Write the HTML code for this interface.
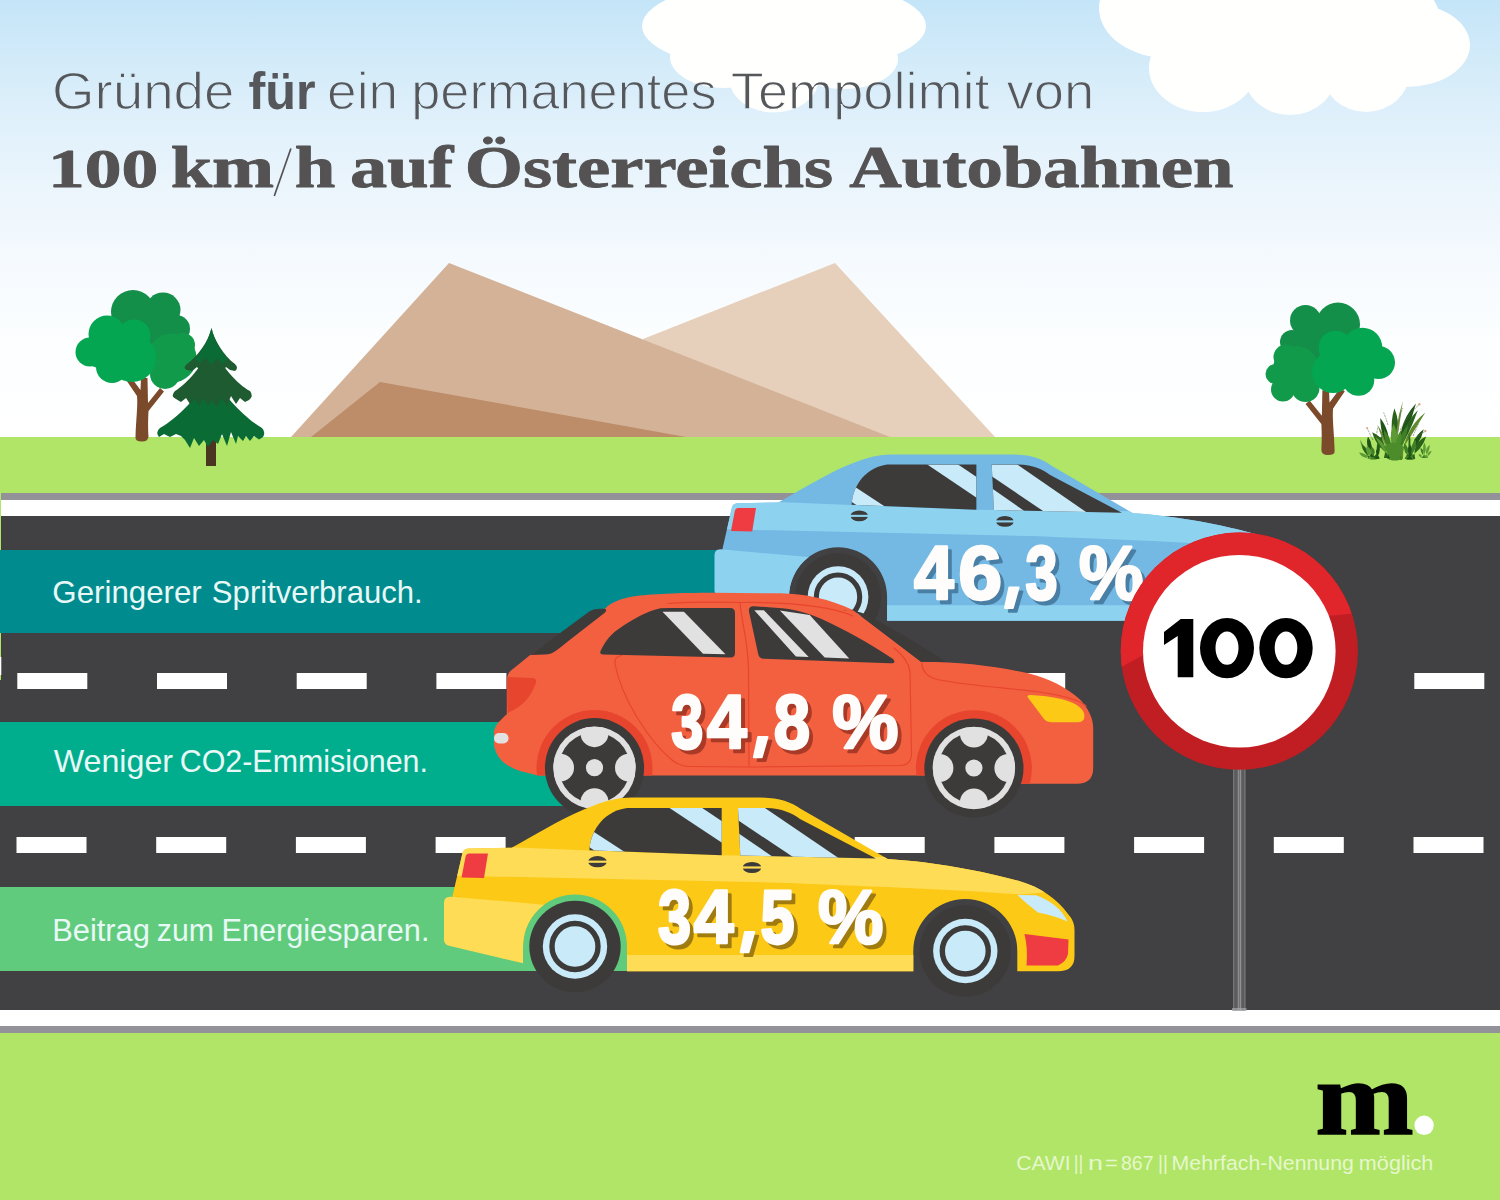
<!DOCTYPE html>
<html lang="de"><head><meta charset="utf-8"><title>Tempolimit 100</title>
<style>
html,body{margin:0;padding:0;background:#b0e567;}
body{width:1500px;height:1200px;overflow:hidden;font-family:"Liberation Sans",sans-serif;}
svg{display:block;position:absolute;left:0;top:0;}
.sans{font-family:"Liberation Sans",sans-serif;}
.serif{font-family:"Liberation Serif",serif;}
</style></head><body>
<svg width="1500" height="1200" viewBox="0 0 1500 1200">
<defs>
<linearGradient id="sky" x1="0" y1="0" x2="0" y2="1">
<stop offset="0" stop-color="#c4e5f8"/><stop offset="0.14" stop-color="#d3ebf9"/><stop offset="0.27" stop-color="#dff0fb"/><stop offset="0.43" stop-color="#ebf5fc"/><stop offset="0.6" stop-color="#f5fafe"/><stop offset="0.78" stop-color="#fcfeff"/><stop offset="1" stop-color="#ffffff"/>
</linearGradient>
</defs>

<rect x="0" y="0" width="1500" height="437" fill="url(#sky)"/>
<rect x="0" y="437" width="1500" height="763" fill="#b0e567"/>
<g fill="#fffffe">
<ellipse cx="784" cy="26" rx="142" ry="47"/>
<ellipse cx="724" cy="57" rx="54" ry="31"/>
<ellipse cx="774" cy="78" rx="45" ry="34.5"/>
<ellipse cx="844" cy="59" rx="54" ry="30"/>
<ellipse cx="1168" cy="8" rx="69" ry="50"/>
<ellipse cx="1203" cy="68" rx="54" ry="44"/>
<ellipse cx="1290" cy="74" rx="46" ry="41"/>
<ellipse cx="1366" cy="74" rx="43" ry="38"/>
<ellipse cx="1406" cy="45" rx="64" ry="42"/>
<ellipse cx="1290" cy="20" rx="150" ry="70"/>
</g>
<polygon points="643,339 835,263 995,437 700,437" fill="#e6d0bb"/>
<polygon points="291,437 449,263 890,437" fill="#d4b298"/>
<polygon points="311,437 380,382 686,437" fill="#bd8c69"/>
<rect x="1" y="493" width="1499" height="8" fill="#939298"/>
<rect x="1" y="500" width="1499" height="17" fill="#ffffff"/>
<rect x="1" y="516" width="1499" height="494" fill="#414042"/>
<rect x="0" y="680" width="2" height="330" fill="#414042"/>
<rect x="0" y="1010" width="1500" height="16" fill="#ffffff"/>
<rect x="0" y="1026" width="1500" height="7" fill="#939298"/>
<rect x="17.3" y="673" width="70" height="16" fill="#fff"/>
<rect x="16.5" y="837" width="70" height="16" fill="#fff"/>
<rect x="157.0" y="673" width="70" height="16" fill="#fff"/>
<rect x="156.2" y="837" width="70" height="16" fill="#fff"/>
<rect x="296.7" y="673" width="70" height="16" fill="#fff"/>
<rect x="295.9" y="837" width="70" height="16" fill="#fff"/>
<rect x="436.4" y="673" width="70" height="16" fill="#fff"/>
<rect x="435.6" y="837" width="70" height="16" fill="#fff"/>
<rect x="576.1" y="673" width="70" height="16" fill="#fff"/>
<rect x="575.3" y="837" width="70" height="16" fill="#fff"/>
<rect x="715.8" y="673" width="70" height="16" fill="#fff"/>
<rect x="715.0" y="837" width="70" height="16" fill="#fff"/>
<rect x="855.5" y="673" width="70" height="16" fill="#fff"/>
<rect x="854.7" y="837" width="70" height="16" fill="#fff"/>
<rect x="995.2" y="673" width="70" height="16" fill="#fff"/>
<rect x="994.4" y="837" width="70" height="16" fill="#fff"/>
<rect x="1134.9" y="673" width="70" height="16" fill="#fff"/>
<rect x="1134.1" y="837" width="70" height="16" fill="#fff"/>
<rect x="1274.6" y="673" width="70" height="16" fill="#fff"/>
<rect x="1273.8" y="837" width="70" height="16" fill="#fff"/>
<rect x="1414.3" y="673" width="70" height="16" fill="#fff"/>
<rect x="1413.5" y="837" width="70" height="16" fill="#fff"/>
<rect x="0" y="657" width="1.3" height="18" fill="#fff"/>
<rect x="0" y="550" width="745" height="83" fill="#008b8f"/>
<rect x="0" y="722" width="600" height="84" fill="#00ae8e"/>
<rect x="0" y="887" width="650" height="84" fill="#60cb7c"/>
<g id="t1" transform="translate(141.5,440) scale(1.0) translate(-141.5,-440)">
<path d="M135.5,437 C136,420 138,405 137,396 L125.5,379 L130,376 L140.5,390 L141,378 L147.5,378 L148,403 L160,388 L164,391.5 L148.5,411 C148,420 148,430 148.5,436 Q148.5,441.5 142,441.5 Q135,441.5 135.5,437 Z" fill="#7a4a2b"/>
<g fill="#138f49"><circle cx="133" cy="312" r="22"/><circle cx="163" cy="310" r="17.5"/><circle cx="176" cy="329" r="14"/><circle cx="150" cy="330" r="24"/></g>
<g fill="#129a4b"><circle cx="172" cy="358" r="24.5"/><circle cx="165" cy="374" r="15"/><circle cx="183" cy="345" r="12"/></g>
<g fill="#05a651"><circle cx="107" cy="334" r="18.5"/><circle cx="134" cy="336" r="16.5"/><circle cx="90" cy="352" r="14.5"/><circle cx="112" cy="367" r="16"/><circle cx="132" cy="358" r="24"/><circle cx="100" cy="352" r="16"/></g>
</g>
<g id="pine">
<rect x="206" y="440" width="10" height="26" fill="#4a3520"/>
<path d="M211.5,372 C222,395 245,418 262,428 Q266,432 263,437 L259,439.5 L254,436 L250,441 L246,436 L243,441 L238,436 L236,444 L231,432 L227,446 L222,434 L218,444 L213,440 L208,447 L204,440 L199,446 L194,438 L190,448 L185,440 L181,436 L176,434 L170,437 L164,434 L159,437 Q155,432 160,428 C178,418 200,395 211.5,372 Z" fill="#0a6b35"/>
<path d="M211.5,345 C220,365 238,385 250,391 Q254,396 249,400 L245,402 L240,398 L236,404 L231,396 L227,406 L222,398 L217,407 L212,400 L208,406 L203,398 L199,406 L195,399 L190,404 L186,398 L181,402 L176,399 Q170,396 175,391 C188,383 203,365 211.5,345 Z" fill="#1e5b30"/>
<path d="M211.5,328 C214,340 224,356 235,364 Q239,368 235,371 L230,370 L226,367 L222,372 L217,366 L212,372 L206,366 L201,372 L197,367 L192,371 L187,370 Q182,368 187,364 C198,356 208,342 211.5,328 Z" fill="#1e5b30"/>
<path d="M211.5,328 C214,340 221,352 228,359 L222,364 L217,358 L211,365 L206,358 L200,363 L195,359 C202,352 208,342 211.5,328 Z" fill="#0a6b35"/>
</g>
<g id="t2">
<g transform="translate(1328.5,453.5) scale(-1.02,1.02) translate(-141.5,-440)"><path d="M135.5,437 C136,420 138,405 137,396 L125.5,379 L130,376 L140.5,390 L141,378 L147.5,378 L148,403 L160,388 L164,391.5 L148.5,411 C148,420 148,430 148.5,436 Q148.5,441.5 142,441.5 Q135,441.5 135.5,437 Z" fill="#7a4a2b"/></g>
<g fill="#138f49"><circle cx="1305.5" cy="320.5" r="15.5"/><circle cx="1338" cy="324.5" r="22"/><circle cx="1292" cy="342" r="12"/><circle cx="1315" cy="342" r="20"/></g>
<g fill="#129a4b"><circle cx="1296" cy="369" r="23"/><circle cx="1275.5" cy="374" r="10"/><circle cx="1283" cy="389.5" r="12"/><circle cx="1305.5" cy="388" r="14"/><circle cx="1286" cy="357" r="12.5"/></g>
<g fill="#05a651"><circle cx="1335.5" cy="347.5" r="16.8"/><circle cx="1362.5" cy="347.5" r="19.8"/><circle cx="1378.5" cy="362.5" r="16.5"/><circle cx="1333" cy="372" r="21"/><circle cx="1358.5" cy="380" r="15.8"/><circle cx="1355" cy="365" r="20"/></g>
</g>
<g id="grass">
<path d="M1366.3,457.0 Q1365.1,447.8 1360.2,439.4 Q1360.4,449.8 1369.7,457.0 Z" fill="#5c9a35"/>
<path d="M1367.5,458.0 Q1365.7,452.8 1359.0,452.6 Q1362.4,459.6 1372.5,458.0 Z" fill="#5c9a35"/>
<path d="M1368.0,458.0 Q1369.4,449.2 1362.0,444.2 Q1361.9,454.1 1374.0,458.0 Z" fill="#2a621b"/>
<path d="M1369.2,458.0 Q1375.1,446.1 1368.0,436.4 Q1363.9,448.7 1376.8,458.0 Z" fill="#1f5417"/>
<path d="M1372.2,458.5 Q1383.4,448.0 1382.7,435.2 Q1372.4,444.8 1379.8,458.5 Z" fill="#2a621b"/>
<path d="M1367.2,459.0 Q1375.3,450.4 1367.0,446.0 Q1363.2,454.6 1375.8,459.0 Z" fill="#5c9a35"/>
<path d="M1372.6,459.0 Q1382.4,454.2 1379.0,447.0 Q1372.6,451.8 1379.4,459.0 Z" fill="#1f5417"/>
<path d="M1370.1,459.5 Q1378.1,452.8 1372.5,447.0 Q1367.9,453.7 1376.9,459.5 Z" fill="#3f7f25"/>
<path d="M1383.9,458.0 Q1389.1,439.6 1372.2,432.2 Q1376.3,447.9 1394.1,458.0 Z" fill="#2a621b"/>
<path d="M1387.0,459.0 Q1388.1,444.4 1375.5,437.0 Q1380.7,449.4 1393.0,459.0 Z" fill="#5c9a35"/>
<path d="M1388.4,458.0 Q1388.3,439.5 1377.3,424.4 Q1382.3,441.8 1392.6,458.0 Z" fill="#6f8f3a"/>
<path d="M1386.8,458.0 Q1393.6,435.9 1380.3,418.1 Q1380.1,439.7 1396.2,458.0 Z" fill="#1f5417"/>
<path d="M1388.8,459.0 Q1395.5,442.3 1384.0,430.0 Q1383.4,446.1 1397.2,459.0 Z" fill="#3f7f25"/>
<path d="M1388.0,459.0 Q1404.6,433.7 1394.4,408.2 Q1386.8,433.5 1400.0,459.0 Z" fill="#2a621b"/>
<path d="M1393.4,459.0 Q1399.3,430.2 1402.8,401.3 Q1393.0,429.4 1397.6,459.0 Z" fill="#6f8f3a"/>
<path d="M1391.9,459.0 Q1408.5,431.9 1416.0,403.4 Q1394.1,426.9 1402.1,459.0 Z" fill="#1f5417"/>
<path d="M1393.8,459.0 Q1409.2,435.2 1417.8,410.3 Q1397.4,430.4 1402.2,459.0 Z" fill="#2a621b"/>
<path d="M1396.1,459.0 Q1411.6,435.3 1425.3,412.4 Q1402.7,430.3 1402.9,459.0 Z" fill="#5f8a2c"/>
<path d="M1393.8,460.0 Q1406.2,443.4 1408.0,425.0 Q1394.0,439.9 1402.2,460.0 Z" fill="#3f7f25"/>
<path d="M1388.5,460.0 Q1403.4,441.7 1393.5,424.0 Q1385.6,442.2 1400.5,460.0 Z" fill="#5c9a35"/>
<path d="M1392.8,460.0 Q1403.8,445.6 1401.0,430.0 Q1391.2,444.0 1401.2,460.0 Z" fill="#4c8c2b"/>
<path d="M1384,447 Q1394,438 1404,447 L1398,460.5 L1391.5,460.5 Z" fill="#4c8c2b"/>
<path d="M1405.1,458.0 Q1413.7,445.5 1408.8,432.2 Q1408.1,445.1 1408.9,458.0 Z" fill="#2a621b"/>
<path d="M1404.8,459.0 Q1419.9,445.8 1423.8,429.2 Q1408.5,440.2 1413.2,459.0 Z" fill="#1f5417"/>
<path d="M1406.8,459.0 Q1422.2,450.1 1426.2,436.4 Q1411.7,443.0 1415.2,459.0 Z" fill="#2a621b"/>
<path d="M1404.6,459.0 Q1411.9,449.5 1404.0,443.0 Q1402.0,452.0 1411.4,459.0 Z" fill="#3f7f25"/>
<path d="M1406.7,459.5 Q1417.8,451.0 1416.0,440.0 Q1406.8,447.9 1414.3,459.5 Z" fill="#3f7f25"/>
<path d="M1406.1,459.5 Q1414.8,451.9 1410.0,444.0 Q1404.7,451.6 1412.9,459.5 Z" fill="#1f5417"/>
<path d="M1421.8,458.0 Q1428.5,450.2 1424.4,442.4 Q1420.4,450.2 1427.2,458.0 Z" fill="#5c9a35"/>
<path d="M1423.1,458.0 Q1430.1,452.2 1429.8,444.8 Q1423.3,450.0 1427.9,458.0 Z" fill="#5c9a35"/>
<path d="M1424.0,458.0 Q1430.5,455.7 1431.6,450.8 Q1425.9,452.1 1428.0,458.0 Z" fill="#5c9a35"/>
<path d="M1421.0,458.0 Q1423.0,453.3 1418.4,454.4 Q1419.4,457.9 1425.0,458.0 Z" fill="#5c9a35"/>
<path d="M1421.9,458.0 Q1426.0,451.5 1420.5,447.5 Q1420.0,453.5 1426.1,458.0 Z" fill="#3f7f25"/>
<g fill="none" stroke="#5b6f4a" stroke-width="0.6" stroke-dasharray="2 0.8"><path d="M1372.8,440 Q1369.5,433 1367.3,428.5"/><path d="M1400,430 Q1410,412 1419,405"/><path d="M1414,440 Q1420,434 1425,431.5"/><path d="M1388,425 Q1385.5,417 1383.6,412.4"/><path d="M1399,420 Q1401,412 1402.8,408"/><path d="M1413,436 Q1416.5,428 1418.8,423.2"/><path d="M1376.5,436 Q1377,431 1377.8,427"/></g>
<g fill="#d9ab86"><circle cx="1367.1" cy="428" r="1.1"/><circle cx="1419.3" cy="404.3" r="1.2"/><circle cx="1425.3" cy="431" r="1.2"/></g>
</g>
<g id="bl" transform="translate(295.80,-309.31) scale(0.943,0.9576)">
<clipPath id="blc"><path d="M452.5,896 L462.5,853 Q463.5,849 468,848.6 L511.7,847.7 C545,829 570,814 593.3,805.7 C607,800.5 618,797.5 632,797.5 L757,797.5 C778,797.5 790,801.5 801,809 L887.7,858.9 C936,862 983,871 1018.3,880.8 C1041,887 1058,900 1068,914 Q1074.5,921 1074.5,930 L1074.5,956 Q1074.5,971.3 1058,971.3 L1017.3,971.3 L1017.3,951 A52,52 0 0 0 913.3,951 L913.3,971.3 L627,971.3 L627,946.5 A52,52 0 0 0 523,946.5 L523,920 L452,905 Z"/></clipPath>
<path d="M452.5,896 L462.5,853 Q463.5,849 468,848.6 L511.7,847.7 C545,829 570,814 593.3,805.7 C607,800.5 618,797.5 632,797.5 L757,797.5 C778,797.5 790,801.5 801,809 L887.7,858.9 C936,862 983,871 1018.3,880.8 C1041,887 1058,900 1068,914 Q1074.5,921 1074.5,930 L1074.5,956 Q1074.5,971.3 1058,971.3 L1017.3,971.3 L1017.3,951 A52,52 0 0 0 913.3,951 L913.3,971.3 L627,971.3 L627,946.5 A52,52 0 0 0 523,946.5 L523,920 L452,905 Z" fill="#74b9e3"/>
<g clip-path="url(#blc)" fill="#8dd3f0">
<path d="M440,846 L511,847.3 L589,850.4 L722,855.3 L740,855.5 L887,857 C940,862 990,872 1020,880 L1050,892 L1020,894.5 C950,889 860,886 780,882.7 L454,875.7 Z"/>
<rect x="600" y="955" width="330" height="20"/>
</g>
<path d="M444,903 Q444,896.5 450.5,896.7 L544,904.7 A52,52 0 0 0 523,946.5 L523,963.3 L449,945.8 Q444,944.5 444,939.5 Z" fill="#8dd3f0"/>
<path d="M469,853.5 L488,853.5 L484,878 L461.5,877.5 L465.5,857 Q466.3,853.5 469,853.5 Z" fill="#ef3b42"/>
<path d="M1024.5,934 L1068.5,939.5 L1068,954 Q1066,962 1058,965.5 L1026.5,965.5 C1027.5,955 1027,944 1024.5,934 Z" fill="#ef3b42"/>
<path d="M1017.5,895 L1036,895.3 C1052,901 1062,910 1067.5,921.5 C1058,917 1047,914 1038,912.5 C1031,907 1023.5,901 1017.5,895 Z" fill="#c9eaf8"/>
<clipPath id="blwr"><path d="M589.4,850.2 C590,835 600,812 627,808 L721.7,808 L721.7,855.3 Z"/></clipPath><clipPath id="blwf"><path d="M738,808 L766,808 C782,808.5 792,813 800,819 L876,858.5 L740.3,855.5 Z"/></clipPath>
<path d="M589.4,850.2 C590,835 600,812 627,808 L721.7,808 L721.7,855.3 Z" fill="#3d3a3a"/><path d="M738,808 L766,808 C782,808.5 792,813 800,819 L876,858.5 L740.3,855.5 Z" fill="#3d3a3a"/>
<g clip-path="url(#blwr)" fill="#c9eaf8"><polygon points="668,807 700.7,807 730,826.5 730,848"/><polygon points="580,823 634,858 606,858 580,841"/></g>
<g clip-path="url(#blwf)" fill="#c9eaf8"><polygon points="730,806 762,806 840,859 796,859 730,815"/><polygon points="730,827.5 776,859 730,859"/></g>
<ellipse cx="597.5" cy="861.7" rx="9.3" ry="5.6" fill="#3d3a3a"/><rect x="587.5" y="860.6" width="20" height="2.2" fill="#8dd3f0"/>
<ellipse cx="752" cy="867.5" rx="9.3" ry="5.6" fill="#3d3a3a"/><rect x="742" y="866.4" width="20" height="2.2" fill="#8dd3f0"/>
<circle cx="575" cy="946.5" r="45.7" fill="#3d3a3a"/><circle cx="575" cy="946.5" r="32.2" fill="#c9eaf8"/><circle cx="575" cy="946.5" r="23" fill="none" stroke="#3d3a3a" stroke-width="5.4"/>
<circle cx="965.3" cy="951" r="45.7" fill="#3d3a3a"/><circle cx="965.3" cy="951" r="32.2" fill="#c9eaf8"/><circle cx="965.3" cy="951" r="23" fill="none" stroke="#3d3a3a" stroke-width="5.4"/>
</g>
<g id="rd">
<clipPath id="rdc"><path d="M538,775.5 L520,771 C505,766 496,758 494,745 L494,733 C494,727 498,722 506.8,714.2 L506.8,680 Q507,674 511,670.5 L530.2,655.1 L594,610 L604.8,608.7 C612,601.5 622,598.5 633,596.5 C650,594 680,592.8 713,592.8 L780,593.3 C805,593.8 830,599 853.3,610.3 L921,661.7 C960,661.5 995,666 1028.3,673.3 C1050,679 1066,687 1080,699.5 C1088,708 1093.2,718 1093.2,728 L1093.2,768 Q1093.2,783.7 1077,783.7 L985,783.7 L985,775.5 Z"/></clipPath>
<path d="M538,775.5 L520,771 C505,766 496,758 494,745 L494,733 C494,727 498,722 506.8,714.2 L506.8,680 Q507,674 511,670.5 L530.2,655.1 L594,610 L604.8,608.7 C612,601.5 622,598.5 633,596.5 C650,594 680,592.8 713,592.8 L780,593.3 C805,593.8 830,599 853.3,610.3 L921,661.7 C960,661.5 995,666 1028.3,673.3 C1050,679 1066,687 1080,699.5 C1088,708 1093.2,718 1093.2,728 L1093.2,768 Q1093.2,783.7 1077,783.7 L985,783.7 L985,775.5 Z" fill="#f26040"/>
<path d="M530.2,655.1 L590,611 Q594,608.8 600,608.7 L604.8,608.7 Q607.5,609.5 605,612.5 C585,628 570,640 557,650 Q551,654.5 545,654.5 Z" fill="#3d3a3a"/>
<path d="M842.8,609.9 C852,610 858,611 865,614 C890,627 920,645 946,662 L921,661.7 L853.3,610.3 Z" fill="#3d3a3a"/>
<g clip-path="url(#rdc)" fill="#e8452e"><circle cx="594.5" cy="768" r="58"/><circle cx="973.9" cy="768.2" r="58"/></g>
<path d="M507,677 L532,678 Q538,678.5 535.5,684 C531,696 524,706 507.5,713 Z" fill="#e8452e"/>
<rect x="494" y="733" width="14.5" height="10.4" rx="5" fill="#e1e1e1"/>
<path d="M1027.5,697 Q1027,694.5 1031,695 C1048,696 1064,698.5 1073,703 C1080,706.5 1084.5,711 1084.5,716 Q1084.5,722.3 1077,722.3 L1052,722.3 Q1047,722.3 1044,719 Z" fill="#fcc917"/>
<g fill="none" stroke="#e8452e" stroke-width="1.2" stroke-linecap="round">
<path d="M622,655.5 Q614,656 615,664 C622,700 650,742 672,760 Q680,766.5 690,766.5 L748,767"/>
<path d="M668,603.5 C690,602 720,602 740,602.5 C790,602 830,606 853,616"/>
<path d="M740,602.5 C742,625 748,640 748.5,670 L749,767 L900,765.5 Q911.5,765 911.5,754 L910,672 C909,663 903,655 894,648"/>
<path d="M922,663 Q922,675 937,679.5 C970,686 1010,688 1040,692 C1060,695 1078,699 1086,706"/>
</g>
<clipPath id="rdwr"><path d="M603.5,654.5 Q598.5,654.3 601,650 C606,640 611,634 620,628 C635,618 648,611 660.4,608.3 Q663,608 668,608 L730,608 Q735,608 735,613 L735,653 Q735,657.7 730,657.5 Z"/></clipPath><clipPath id="rdwf"><path d="M749,611.5 Q748.3,606 754,606.2 L782,608.3 C800,610 815,615.5 830,623 C855,635 875,647 893,659 Q897,663.5 890,663.3 L764,658.8 Q759,658.6 758.2,654 Z"/></clipPath>
<path d="M603.5,654.5 Q598.5,654.3 601,650 C606,640 611,634 620,628 C635,618 648,611 660.4,608.3 Q663,608 668,608 L730,608 Q735,608 735,613 L735,653 Q735,657.7 730,657.5 Z" fill="#3d3a3a"/><path d="M749,611.5 Q748.3,606 754,606.2 L782,608.3 C800,610 815,615.5 830,623 C855,635 875,647 893,659 Q897,663.5 890,663.3 L764,658.8 Q759,658.6 758.2,654 Z" fill="#3d3a3a"/>
<g clip-path="url(#rdwr)" fill="#e1e1e1"><polygon points="662.5,611.7 683.9,611.7 725.5,654.3 703,653.7"/></g>
<g clip-path="url(#rdwf)" fill="#e1e1e1"><polygon points="754.3,610.2 763.9,610.2 808.7,657 795.9,656.5"/><polygon points="779.9,610.6 809.7,614.9 849.2,658.6 824.7,657.5"/></g>
<circle cx="594.5" cy="767.7" r="49.6" fill="#3d3a3a"/><circle cx="594.5" cy="767.7" r="41.2" fill="#e1e1e1"/><circle cx="594.5" cy="767.7" r="35.5" fill="#3d3a3a"/>
<g clip-path="url(#rdw594)" fill="#e1e1e1">
<circle cx="594.5" cy="733.2" r="14"/>
<circle cx="594.5" cy="802.2" r="14"/>
<circle cx="560.0" cy="767.7" r="14"/>
<circle cx="629.0" cy="767.7" r="14"/>
</g>
<clipPath id="rdw594"><circle cx="594.5" cy="767.7" r="41"/></clipPath>
<circle cx="594.5" cy="767.7" r="8.6" fill="#e1e1e1"/>
<circle cx="973.9" cy="768" r="49.6" fill="#3d3a3a"/><circle cx="973.9" cy="768" r="41.2" fill="#e1e1e1"/><circle cx="973.9" cy="768" r="35.5" fill="#3d3a3a"/>
<g clip-path="url(#rdw973)" fill="#e1e1e1">
<circle cx="973.9" cy="733.5" r="14"/>
<circle cx="973.9" cy="802.5" r="14"/>
<circle cx="939.4" cy="768" r="14"/>
<circle cx="1008.4" cy="768" r="14"/>
</g>
<clipPath id="rdw973"><circle cx="973.9" cy="768" r="41"/></clipPath>
<circle cx="973.9" cy="768" r="8.6" fill="#e1e1e1"/>
</g>
<g id="ye">
<clipPath id="yec"><path d="M452.5,896 L462.5,853 Q463.5,849 468,848.6 L511.7,847.7 C545,829 570,814 593.3,805.7 C607,800.5 618,797.5 632,797.5 L757,797.5 C778,797.5 790,801.5 801,809 L887.7,858.9 C936,862 983,871 1018.3,880.8 C1041,887 1058,900 1068,914 Q1074.5,921 1074.5,930 L1074.5,956 Q1074.5,971.3 1058,971.3 L1017.3,971.3 L1017.3,951 A52,52 0 0 0 913.3,951 L913.3,971.3 L627,971.3 L627,946.5 A52,52 0 0 0 523,946.5 L523,920 L452,905 Z"/></clipPath>
<path d="M452.5,896 L462.5,853 Q463.5,849 468,848.6 L511.7,847.7 C545,829 570,814 593.3,805.7 C607,800.5 618,797.5 632,797.5 L757,797.5 C778,797.5 790,801.5 801,809 L887.7,858.9 C936,862 983,871 1018.3,880.8 C1041,887 1058,900 1068,914 Q1074.5,921 1074.5,930 L1074.5,956 Q1074.5,971.3 1058,971.3 L1017.3,971.3 L1017.3,951 A52,52 0 0 0 913.3,951 L913.3,971.3 L627,971.3 L627,946.5 A52,52 0 0 0 523,946.5 L523,920 L452,905 Z" fill="#fcc917"/>
<g clip-path="url(#yec)" fill="#ffdc55">
<path d="M440,846 L511,847.3 L589,850.4 L722,855.3 L740,855.5 L887,857 C940,862 990,872 1020,880 L1050,892 L1020,894.5 C950,889 860,886 780,882.7 L454,875.7 Z"/>
<rect x="600" y="955" width="330" height="20"/>
</g>
<path d="M444,903 Q444,896.5 450.5,896.7 L544,904.7 A52,52 0 0 0 523,946.5 L523,963.3 L449,945.8 Q444,944.5 444,939.5 Z" fill="#ffdc55"/>
<path d="M469,853.5 L488,853.5 L484,878 L461.5,877.5 L465.5,857 Q466.3,853.5 469,853.5 Z" fill="#ef3b42"/>
<path d="M1024.5,934 L1068.5,939.5 L1068,954 Q1066,962 1058,965.5 L1026.5,965.5 C1027.5,955 1027,944 1024.5,934 Z" fill="#ef3b42"/>
<path d="M1017.5,895 L1036,895.3 C1052,901 1062,910 1067.5,921.5 C1058,917 1047,914 1038,912.5 C1031,907 1023.5,901 1017.5,895 Z" fill="#c9eaf8"/>
<clipPath id="yewr"><path d="M589.4,850.2 C590,835 600,812 627,808 L721.7,808 L721.7,855.3 Z"/></clipPath><clipPath id="yewf"><path d="M738,808 L766,808 C782,808.5 792,813 800,819 L876,858.5 L740.3,855.5 Z"/></clipPath>
<path d="M589.4,850.2 C590,835 600,812 627,808 L721.7,808 L721.7,855.3 Z" fill="#3d3a3a"/><path d="M738,808 L766,808 C782,808.5 792,813 800,819 L876,858.5 L740.3,855.5 Z" fill="#3d3a3a"/>
<g clip-path="url(#yewr)" fill="#c9eaf8"><polygon points="668,807 700.7,807 730,826.5 730,848"/><polygon points="580,823 634,858 606,858 580,841"/></g>
<g clip-path="url(#yewf)" fill="#c9eaf8"><polygon points="730,806 762,806 840,859 796,859 730,815"/><polygon points="730,827.5 776,859 730,859"/></g>
<ellipse cx="597.5" cy="861.7" rx="9.3" ry="5.6" fill="#3d3a3a"/><rect x="587.5" y="860.6" width="20" height="2.2" fill="#ffdc55"/>
<ellipse cx="752" cy="867.5" rx="9.3" ry="5.6" fill="#3d3a3a"/><rect x="742" y="866.4" width="20" height="2.2" fill="#ffdc55"/>
<circle cx="575" cy="946.5" r="45.7" fill="#3d3a3a"/><circle cx="575" cy="946.5" r="32.2" fill="#c9eaf8"/><circle cx="575" cy="946.5" r="23" fill="none" stroke="#3d3a3a" stroke-width="5.4"/>
<circle cx="965.3" cy="951" r="45.7" fill="#3d3a3a"/><circle cx="965.3" cy="951" r="32.2" fill="#c9eaf8"/><circle cx="965.3" cy="951" r="23" fill="none" stroke="#3d3a3a" stroke-width="5.4"/>
</g>
<text transform="translate(917.81,602.70) scale(0.9400,0.9876)" class="sans" font-size="76" font-weight="bold" fill="#4a7fa5" stroke="#4a7fa5" stroke-width="2.6" stroke-linejoin="round" vector-effect="non-scaling-stroke" >4</text>
<text transform="translate(961.94,602.70) scale(1.0372,0.9876)" class="sans" font-size="76" font-weight="bold" fill="#4a7fa5" stroke="#4a7fa5" stroke-width="2.6" stroke-linejoin="round" vector-effect="non-scaling-stroke" >6</text>
<text transform="translate(1029.36,602.70) scale(0.7590,0.9876)" class="sans" font-size="76" font-weight="bold" fill="#4a7fa5" stroke="#4a7fa5" stroke-width="2.6" stroke-linejoin="round" vector-effect="non-scaling-stroke" >3</text>
<text transform="translate(1082.69,602.70) scale(0.9537,0.9876)" class="sans" font-size="76" font-weight="bold" fill="#4a7fa5" stroke="#4a7fa5" stroke-width="2.6" stroke-linejoin="round" vector-effect="non-scaling-stroke" >%</text>
<polygon points="1013.1,591.4 1022.4,591.4 1016.6,611.7 1008.8,611.7" fill="#4a7fa5" stroke="#4a7fa5" stroke-width="2" stroke-linejoin="round"/>
<text transform="translate(914.01,598.90) scale(0.9400,0.9876)" class="sans" font-size="76" font-weight="bold" fill="#fffdfb" stroke="#fffdfb" stroke-width="2.6" stroke-linejoin="round" vector-effect="non-scaling-stroke" >4</text>
<text transform="translate(958.14,598.90) scale(1.0372,0.9876)" class="sans" font-size="76" font-weight="bold" fill="#fffdfb" stroke="#fffdfb" stroke-width="2.6" stroke-linejoin="round" vector-effect="non-scaling-stroke" >6</text>
<text transform="translate(1025.56,598.90) scale(0.7590,0.9876)" class="sans" font-size="76" font-weight="bold" fill="#fffdfb" stroke="#fffdfb" stroke-width="2.6" stroke-linejoin="round" vector-effect="non-scaling-stroke" >3</text>
<text transform="translate(1078.89,598.90) scale(0.9537,0.9876)" class="sans" font-size="76" font-weight="bold" fill="#fffdfb" stroke="#fffdfb" stroke-width="2.6" stroke-linejoin="round" vector-effect="non-scaling-stroke" >%</text>
<polygon points="1009.3,587.6 1018.6,587.6 1012.8,607.9 1005.0,607.9" fill="#fffdfb" stroke="#fffdfb" stroke-width="2" stroke-linejoin="round"/>
<g id="sign">
<defs><linearGradient id="pole" x1="0" y1="0" x2="1" y2="0"><stop offset="0" stop-color="#8c8d8f"/><stop offset="0.12" stop-color="#5c5c5e"/><stop offset="0.33" stop-color="#5c5c5e"/><stop offset="0.42" stop-color="#929395"/><stop offset="0.5" stop-color="#6c6c6e"/><stop offset="0.6" stop-color="#929395"/><stop offset="0.7" stop-color="#5c5c5e"/><stop offset="0.88" stop-color="#5c5c5e"/><stop offset="1" stop-color="#8c8d8f"/></linearGradient><clipPath id="ringc"><path d="M1239.3,532.6 a118.6,118.6 0 1 0 0.01,0 Z M1239.3,555 a96.2,96.2 0 1 1 -0.01,0 Z" clip-rule="evenodd"/></clipPath></defs>
<rect x="1233.2" y="765" width="12.2" height="245.5" fill="url(#pole)"/>
<rect x="1232" y="1008" width="14.5" height="3" fill="#a8a9ab" opacity="0.7"/>
<circle cx="1239.3" cy="651.2" r="118.6" fill="#c11e24"/>
<g clip-path="url(#sgc)"><path d="M1110,676 C1150,640 1250,622 1370,612 L1370,500 L1110,500 Z" fill="#e0252b"/></g>
<clipPath id="sgc"><circle cx="1239.3" cy="651.2" r="118.6"/></clipPath>
<circle cx="1239.3" cy="651.2" r="96.3" fill="#ffffff"/>
</g>
<mask id="thin" maskUnits="userSpaceOnUse" x="40" y="55" width="1070" height="75">
<text transform="translate(51.97,108.7) scale(1.0518,1.0)" class="sans" font-size="52" fill="#fff" stroke="#000" stroke-width="1.3">Gründe</text>
<text transform="translate(248.46,108.7) scale(0.9675,1.0)" class="sans" font-size="52" font-weight="bold" fill="#fff">für</text>
<text transform="translate(327.08,108.7) scale(1.0232,1.0)" class="sans" font-size="52" fill="#fff" stroke="#000" stroke-width="1.3">ein</text>
<text transform="translate(411.21,108.7) scale(1.0063,1.0)" class="sans" font-size="52" fill="#fff" stroke="#000" stroke-width="1.3">permanentes</text>
<text transform="translate(730.87,108.7) scale(1.0417,1.0)" class="sans" font-size="52" fill="#fff" stroke="#000" stroke-width="1.3">Tempolimit</text>
<text transform="translate(1006.47,108.7) scale(1.0478,1.0)" class="sans" font-size="52" fill="#fff" stroke="#000" stroke-width="1.3">von</text>
</mask>
<rect x="40" y="55" width="1070" height="75" fill="#55575a" mask="url(#thin)"/>
<text transform="translate(47.98,186.80) scale(1.3367,1.0000)" class="serif" font-size="55" font-weight="bold" fill="#545252" stroke="#545252" stroke-width="1.0" stroke-linejoin="round" vector-effect="non-scaling-stroke" >100</text>
<text transform="translate(170.64,186.80) scale(1.2421,1.0000)" class="serif" font-size="60" font-weight="bold" fill="#545252" stroke="#545252" stroke-width="1.0" stroke-linejoin="round" vector-effect="non-scaling-stroke" >km</text>
<text transform="translate(294.68,186.80) scale(1.2161,1.0000)" class="serif" font-size="60" font-weight="bold" fill="#545252" stroke="#545252" stroke-width="1.0" stroke-linejoin="round" vector-effect="non-scaling-stroke" >h</text>
<text transform="translate(350.02,186.80) scale(1.2402,1.0000)" class="serif" font-size="60" font-weight="bold" fill="#545252" stroke="#545252" stroke-width="1.0" stroke-linejoin="round" vector-effect="non-scaling-stroke" >auf</text>
<text transform="translate(464.76,186.80) scale(1.2474,1.0000)" class="serif" font-size="60" font-weight="bold" fill="#545252" stroke="#545252" stroke-width="1.0" stroke-linejoin="round" vector-effect="non-scaling-stroke" >Österreichs</text>
<text transform="translate(849.19,186.80) scale(1.2130,1.0000)" class="serif" font-size="60" font-weight="bold" fill="#545252" stroke="#545252" stroke-width="1.0" stroke-linejoin="round" vector-effect="non-scaling-stroke" >Autobahnen</text>
<line x1="290.9" y1="148.5" x2="274.3" y2="196" stroke="#545252" stroke-width="1.7"/>
<text transform="translate(52.34,603.20) scale(1.0090,1.0000)" class="sans" font-size="31" fill="#e8f8f6" >Geringerer</text>
<text transform="translate(211.87,603.20) scale(1.0033,1.0000)" class="sans" font-size="31" fill="#e8f8f6" >Spritverbrauch.</text>
<text transform="translate(53.77,771.90) scale(1.0387,1.0000)" class="sans" font-size="31" fill="#e8f8f6" >Weniger</text>
<text transform="translate(179.78,771.90) scale(0.9803,1.0000)" class="sans" font-size="31" fill="#e8f8f6" >CO2-Emmisionen.</text>
<text transform="translate(52.13,940.80) scale(0.9963,1.0000)" class="sans" font-size="31" fill="#e8f8f6" >Beitrag</text>
<text transform="translate(156.84,940.80) scale(0.9750,1.0000)" class="sans" font-size="31" fill="#e8f8f6" >zum</text>
<text transform="translate(221.44,940.80) scale(0.9895,1.0000)" class="sans" font-size="31" fill="#e8f8f6" >Energiesparen.</text>
<text transform="translate(675.16,752.00) scale(0.7590,1.0048)" class="sans" font-size="76" font-weight="bold" fill="#a83a27" stroke="#a83a27" stroke-width="2.6" stroke-linejoin="round" vector-effect="non-scaling-stroke" >3</text>
<text transform="translate(710.91,752.00) scale(0.9400,1.0048)" class="sans" font-size="76" font-weight="bold" fill="#a83a27" stroke="#a83a27" stroke-width="2.6" stroke-linejoin="round" vector-effect="non-scaling-stroke" >4</text>
<text transform="translate(777.52,752.00) scale(0.8591,1.0048)" class="sans" font-size="76" font-weight="bold" fill="#a83a27" stroke="#a83a27" stroke-width="2.6" stroke-linejoin="round" vector-effect="non-scaling-stroke" >8</text>
<text transform="translate(835.94,752.00) scale(0.9804,1.0048)" class="sans" font-size="76" font-weight="bold" fill="#a83a27" stroke="#a83a27" stroke-width="2.6" stroke-linejoin="round" vector-effect="non-scaling-stroke" >%</text>
<polygon points="762.0,740.7 771.3,740.7 765.5,761.0 757.7,761.0" fill="#a83a27" stroke="#a83a27" stroke-width="2" stroke-linejoin="round"/>
<text transform="translate(671.36,748.20) scale(0.7590,1.0048)" class="sans" font-size="76" font-weight="bold" fill="#fffdfb" stroke="#fffdfb" stroke-width="2.6" stroke-linejoin="round" vector-effect="non-scaling-stroke" >3</text>
<text transform="translate(707.11,748.20) scale(0.9400,1.0048)" class="sans" font-size="76" font-weight="bold" fill="#fffdfb" stroke="#fffdfb" stroke-width="2.6" stroke-linejoin="round" vector-effect="non-scaling-stroke" >4</text>
<text transform="translate(773.72,748.20) scale(0.8591,1.0048)" class="sans" font-size="76" font-weight="bold" fill="#fffdfb" stroke="#fffdfb" stroke-width="2.6" stroke-linejoin="round" vector-effect="non-scaling-stroke" >8</text>
<text transform="translate(832.14,748.20) scale(0.9804,1.0048)" class="sans" font-size="76" font-weight="bold" fill="#fffdfb" stroke="#fffdfb" stroke-width="2.6" stroke-linejoin="round" vector-effect="non-scaling-stroke" >%</text>
<polygon points="758.2,736.9 767.5,736.9 761.7,757.2 753.9,757.2" fill="#fffdfb" stroke="#fffdfb" stroke-width="2" stroke-linejoin="round"/>
<text transform="translate(661.81,947.00) scale(0.7828,1.0048)" class="sans" font-size="76" font-weight="bold" fill="#a07c10" stroke="#a07c10" stroke-width="2.6" stroke-linejoin="round" vector-effect="non-scaling-stroke" >3</text>
<text transform="translate(697.61,947.00) scale(0.9424,1.0048)" class="sans" font-size="76" font-weight="bold" fill="#a07c10" stroke="#a07c10" stroke-width="2.6" stroke-linejoin="round" vector-effect="non-scaling-stroke" >4</text>
<text transform="translate(764.36,947.00) scale(0.8067,1.0048)" class="sans" font-size="76" font-weight="bold" fill="#a07c10" stroke="#a07c10" stroke-width="2.6" stroke-linejoin="round" vector-effect="non-scaling-stroke" >5</text>
<text transform="translate(821.76,947.00) scale(0.9678,1.0048)" class="sans" font-size="76" font-weight="bold" fill="#a07c10" stroke="#a07c10" stroke-width="2.6" stroke-linejoin="round" vector-effect="non-scaling-stroke" >%</text>
<polygon points="748.8,935.7 758.1,935.7 752.3,956.0 744.5,956.0" fill="#a07c10" stroke="#a07c10" stroke-width="2" stroke-linejoin="round"/>
<text transform="translate(658.01,943.20) scale(0.7828,1.0048)" class="sans" font-size="76" font-weight="bold" fill="#fffdfb" stroke="#fffdfb" stroke-width="2.6" stroke-linejoin="round" vector-effect="non-scaling-stroke" >3</text>
<text transform="translate(693.81,943.20) scale(0.9424,1.0048)" class="sans" font-size="76" font-weight="bold" fill="#fffdfb" stroke="#fffdfb" stroke-width="2.6" stroke-linejoin="round" vector-effect="non-scaling-stroke" >4</text>
<text transform="translate(760.56,943.20) scale(0.8067,1.0048)" class="sans" font-size="76" font-weight="bold" fill="#fffdfb" stroke="#fffdfb" stroke-width="2.6" stroke-linejoin="round" vector-effect="non-scaling-stroke" >5</text>
<text transform="translate(817.96,943.20) scale(0.9678,1.0048)" class="sans" font-size="76" font-weight="bold" fill="#fffdfb" stroke="#fffdfb" stroke-width="2.6" stroke-linejoin="round" vector-effect="non-scaling-stroke" >%</text>
<polygon points="745.0,931.9 754.3,931.9 748.5,952.2 740.7,952.2" fill="#fffdfb" stroke="#fffdfb" stroke-width="2" stroke-linejoin="round"/>
<g fill="#000"><polygon points="1180.7,619.1 1193.3,619.1 1193.3,677.3 1177.7,677.3 1177.7,636 1164,644.9 1164,632"/><path fill-rule="evenodd" d="M1200,648.1 a27,30.1 0 1 0 54,0 a27,30.1 0 1 0 -54,0 Z M1215.5,648.1 a11.5,16.7 0 1 1 23,0 a11.5,16.7 0 1 1 -23,0 Z"/><path fill-rule="evenodd" d="M1259.3,648.1 a26.7,30.1 0 1 0 53.4,0 a26.7,30.1 0 1 0 -53.4,0 Z M1274.7,648.1 a11.3,16.7 0 1 1 22.6,0 a11.3,16.7 0 1 1 -22.6,0 Z"/></g>
<text transform="translate(1315.25,1133.70) scale(1.0737,0.9600)" class="serif" font-size="110" font-weight="bold" fill="#000" stroke="#000" stroke-width="1.6" stroke-linejoin="miter" vector-effect="non-scaling-stroke" >m</text>
<circle cx="1424.1" cy="1125.3" r="9.7" fill="#fff"/>
<text transform="translate(1016.14,1169.80) scale(1.0819,1.0000)" class="sans" font-size="19.6" fill="#e6f7cd" >CAWI</text>
<text transform="translate(1073.79,1169.80) scale(0.9408,1.0000)" class="sans" font-size="19.6" fill="#e6f7cd" >||</text>
<text transform="translate(1087.90,1169.80) scale(1.3806,1.0000)" class="sans" font-size="19.6" fill="#e6f7cd" >n</text>
<text transform="translate(1104.89,1169.80) scale(1.1295,1.0000)" class="sans" font-size="19.6" fill="#e6f7cd" >=</text>
<text transform="translate(1120.99,1169.80) scale(0.9945,1.0000)" class="sans" font-size="19.6" fill="#e6f7cd" >867</text>
<text transform="translate(1158.04,1169.80) scale(0.9706,1.0000)" class="sans" font-size="19.6" fill="#e6f7cd" >||</text>
<text transform="translate(1171.62,1169.80) scale(1.0868,1.0000)" class="sans" font-size="19.6" fill="#e6f7cd" >Mehrfach-Nennung</text>
<text transform="translate(1358.86,1169.80) scale(1.1044,1.0000)" class="sans" font-size="19.6" fill="#e6f7cd" >möglich</text>
</svg></body></html>
